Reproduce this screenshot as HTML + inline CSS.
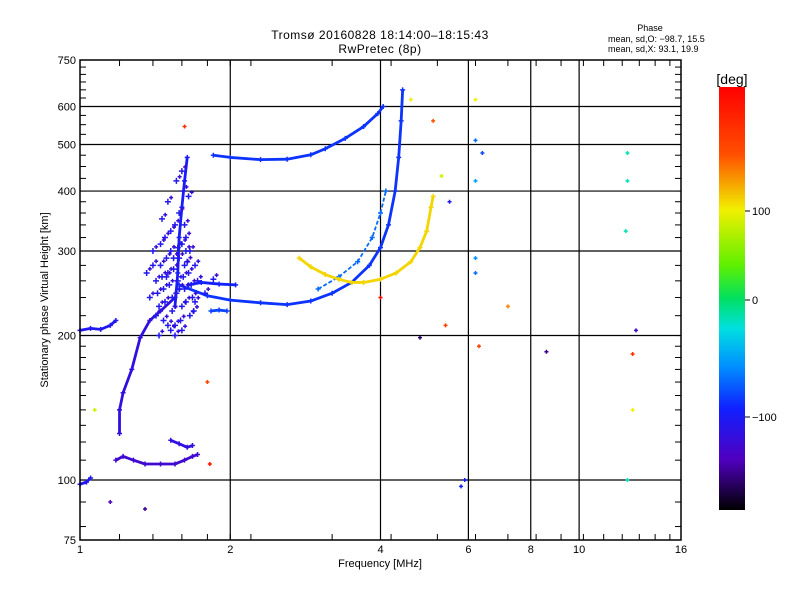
<!DOCTYPE html>
<html><head><meta charset="utf-8"><style>
body{margin:0;background:#fff;}
svg{display:block;font-family:"Liberation Sans",sans-serif;}
</style></head><body>
<svg id="chart" width="800" height="600" viewBox="0 0 800 600">
<defs>
<linearGradient id="cb" x1="0" y1="0" x2="0" y2="1">
<stop offset="0" stop-color="#ff0000"/><stop offset="0.16" stop-color="#ff5000"/><stop offset="0.29" stop-color="#f0f000"/>
<stop offset="0.42" stop-color="#60f000"/><stop offset="0.5" stop-color="#00e060"/><stop offset="0.57" stop-color="#00e0e0"/>
<stop offset="0.66" stop-color="#0090ff"/><stop offset="0.76" stop-color="#1020ff"/><stop offset="0.88" stop-color="#5000c0"/><stop offset="1" stop-color="#000000"/>
</linearGradient></defs>
<rect width="800" height="600" fill="#fff"/>
<text x="380" y="39" font-size="12" text-anchor="middle" letter-spacing="0.5">Tromsø 20160828 18:14:00–18:15:43</text>
<text x="380" y="53" font-size="12" text-anchor="middle" letter-spacing="0.5">RwPretec (8p)</text>
<text x="650" y="31" font-size="9" text-anchor="middle">Phase</text>
<text x="608" y="42" font-size="9">mean, sd,O: −98.7, 15.5</text>
<text x="608" y="52" font-size="9">mean, sd,X:  93.1, 19.9</text>
<g id="grid"></g>
<g id="marks"></g>
<rect x="80" y="60" width="601" height="480" fill="none" stroke="#000" stroke-width="1.5"/>
<g id="ticks"></g>
<text x="380" y="567" font-size="11" text-anchor="middle">Frequency [MHz]</text>
<text x="48" y="300" font-size="11" text-anchor="middle" transform="rotate(-90 48 300)">Stationary phase Virtual Height [km]</text>
<rect x="719" y="87" width="26" height="423" fill="url(#cb)"/>
<text x="732" y="84" font-size="14" text-anchor="middle">[deg]</text>
<line x1="745" y1="211" x2="750" y2="211" stroke="#000"/>
<line x1="745" y1="300" x2="750" y2="300" stroke="#000"/>
<line x1="745" y1="417" x2="750" y2="417" stroke="#000"/>
<text x="752" y="215" font-size="11">100</text>
<text x="752" y="304" font-size="11">0</text>
<text x="752" y="421" font-size="11">−100</text>
</svg>
<script>
const xTicks=[1,2,4,6,8,10,16];
const yTicks=[75,100,200,300,400,500,600,750];
const xGrid=[2,4,6,8,10];
const yGrid=[100,200,300,400,500,600];
// traces: [freq MHz, height km]
const traceO=[[1.58,255],[1.8,242],[2.0,237],[2.3,234],[2.6,232],[2.9,236],[3.2,245],[3.5,258],[3.8,280],[4.0,305],[4.15,340],[4.28,400],[4.35,470],[4.4,560],[4.43,650]];
const traceO2=[[3.0,250],[3.3,265],[3.6,285],[3.85,320],[4.0,360],[4.1,400]];
const traceUpper=[[1.85,475],[2.0,470],[2.3,465],[2.6,466],[2.9,476],[3.1,490],[3.4,515],[3.7,545],[3.95,580],[4.05,600]];
const traceX=[[2.75,290],[2.9,278],[3.1,268],[3.3,262],[3.5,258],[3.7,258],[4.0,262],[4.3,270],[4.6,285],[4.8,305],[4.95,330],[5.05,370],[5.1,390]];
const traceE=[[1.18,110],[1.22,112],[1.28,110],[1.35,108],[1.45,108],[1.55,108],[1.62,110],[1.68,112],[1.72,113]];
const traceE0=[[1.0,98],[1.03,99],[1.05,101]];
const traceLow=[[1.0,205],[1.05,207],[1.1,206],[1.15,210],[1.18,215]];
const traceRise=[[1.2,125],[1.2,140],[1.22,152],[1.27,170],[1.32,198],[1.38,215],[1.45,225],[1.55,240]];
const traceSpike=[[1.55,230],[1.57,270],[1.58,320],[1.6,370],[1.62,420],[1.64,470]];
const traceLedge=[[1.65,255],[1.75,258],[1.9,256],[2.05,255]];
const traceLedge2=[[1.83,225],[1.9,226],[1.97,225]];
const traceBlob2=[[1.52,121],[1.58,119],[1.64,117],[1.68,118]];
const cluster=[[1.4,300],[1.42,260],[1.44,230],[1.45,280],[1.47,250],[1.48,320],[1.5,210],[1.5,270],[1.52,300],[1.53,240],[1.55,340],[1.55,210],[1.57,260],[1.58,290],[1.6,230],[1.62,250],[1.63,300],[1.65,270],[1.66,220],[1.68,240],[1.7,280],[1.72,260],[1.46,350],[1.5,380],[1.42,220],[1.38,240],[1.36,270],[1.6,205],[1.55,200],[1.44,200],[1.7,235],[1.78,245],[1.85,262],[1.62,340],[1.65,390],[1.6,440],
[1.4,280],[1.43,245],[1.46,265],[1.48,235],[1.49,290],[1.51,255],[1.53,225],[1.54,275],[1.56,245],[1.57,305],[1.59,215],[1.61,265],[1.63,235],[1.64,285],[1.67,255],[1.69,225],[1.47,215],[1.52,330],[1.58,360],[1.61,400],[1.56,420],[1.63,320],[1.66,300],[1.52,205],[1.45,310],[1.58,250],[1.62,280],[1.49,265],[1.54,290],[1.6,310]];
const clusterPhase=-110;
// scattered points: freq, height, phase
const scatterF=[1.62,1.8,6.2,6.2,6.4,6.2,5.5,6.2,6.2,5.4,6.3,8.6,7.2,12.5,12.5,12.4,13,12.8,12.8,12.5,5.9,5.8,5.3,5.1,4.6,4.0,4.8,1.07,1.35,1.15,1.82];
const scatterH=[545,160,620,510,480,420,380,290,270,210,190,185,230,480,420,330,205,183,140,100,100,97,430,560,620,240,198,140,87,90,108];
const scatterP=[150,140,100,-80,-90,-60,-110,-70,-80,140,140,-150,120,-20,-20,-20,-130,150,100,-20,-100,-100,90,130,100,175,-160,90,-150,-140,170];
const traceColor={O:-95,O2:-80,Upper:-95,X:105,E:-130,E0:-110,Low:-110,Rise:-120,Spike:-105,Ledge:-100,Ledge2:-90,Blob2:-120};

const X=f=>80+150.25*Math.log2(f);
const Y=h=>540-480*Math.log10(h/75);
function phaseColor(p){
  const stops=[[180,[255,0,0]],[130,[255,80,0]],[100,[240,240,0]],[60,[96,240,0]],[0,[0,224,96]],[-30,[0,224,224]],[-70,[0,144,255]],[-100,[16,32,255]],[-140,[80,0,192]],[-180,[0,0,0]]];
  for(let i=0;i<stops.length-1;i++){const[a,ca]=stops[i],[b,cb]=stops[i+1];
    if(p<=a&&p>=b){const t=(a-p)/(a-b);return 'rgb('+ca.map((c,k)=>Math.round(c+(cb[k]-c)*t)).join(',')+')';}}
  return '#000';
}
const NS='http://www.w3.org/2000/svg';
function mk(tag,attrs,parent){const e=document.createElementNS(NS,tag);for(const k in attrs)e.setAttribute(k,attrs[k]);parent.appendChild(e);return e;}
const grid=document.getElementById('grid'),ticks=document.getElementById('ticks'),marks=document.getElementById('marks');
xGrid.forEach(f=>{const l=mk('line',{x1:X(f),x2:X(f),y1:60,y2:540,stroke:'#000','stroke-width':1.2},grid);

});
yGrid.forEach(h=>{const l=mk('line',{x1:80,x2:681,y1:Y(h),y2:Y(h),stroke:'#000','stroke-width':1.2},grid);

});
xTicks.forEach(f=>{const t=mk('text',{x:X(f),y:553,'font-size':11,'text-anchor':'middle'},ticks);t.textContent=f;

});
yTicks.forEach(h=>{const t=mk('text',{x:76,y:Y(h)+4,'font-size':11,'text-anchor':'end'},ticks);t.textContent=h;

});
for(let h=80;h<=750;h+=(h<200?10:(h<400?20:25))){[[80,86],[675,681]].forEach(([a,b])=>{const l=mk('line',{x1:a,x2:b,y1:Y(h),y2:Y(h),stroke:'#000'},ticks);

});}
for(let f=1;f<=16;f+=(f<2?0.2:1)){[[60,66],[534,540]].forEach(([a,b])=>{const l=mk('line',{x1:X(f),x2:X(f),y1:a,y2:b,stroke:'#000'},ticks);

});}
function plus(f,h,c,s){const x=X(f),y=Y(h);const p=mk('path',{d:`M${x-s} ${y}H${x+s}M${x} ${y-s}V${y+s}`,stroke:c,'stroke-width':1.5},marks);

}
const traces={O:traceO,O2:traceO2,Upper:traceUpper,X:traceX,E:traceE,E0:traceE0,Low:traceLow,Rise:traceRise,Spike:traceSpike,Ledge:traceLedge,Ledge2:traceLedge2,Blob2:traceBlob2};
for(const k in traces){const c=phaseColor(traceColor[k]);
const pl=mk('polyline',{points:traces[k].map(([f,h])=>X(f)+','+Y(h)).join(' '),fill:'none',stroke:c,'stroke-width':k==='O2'?1.8:2.8,'stroke-linejoin':'round','stroke-dasharray':k==='O2'?'4 2':'none'},marks);


traces[k].forEach(([f,h])=>plus(f,h,c,2.5));}
cluster.forEach(([f,h])=>{plus(f,h,phaseColor(clusterPhase),3);plus(f*1.015,h*1.02,phaseColor(-125),2);});
scatterF.forEach((f,i)=>plus(f,scatterH[i],phaseColor(scatterP[i]),2));
</script>
</body></html>
